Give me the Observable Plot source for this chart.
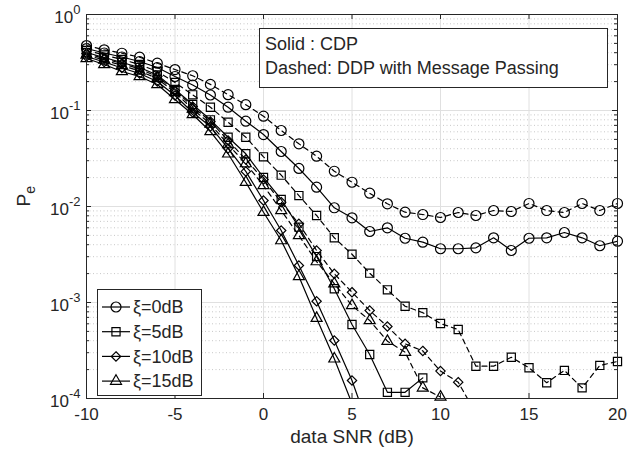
<!DOCTYPE html>
<html><head><meta charset="utf-8">
<script src="https://cdn.jsdelivr.net/npm/d3@7"></script>
<script src="https://cdn.jsdelivr.net/npm/@observablehq/plot@0.6"></script>
<style>body{margin:0;background:#fff}</style>
</head><body><div id="chart"></div>
<script>
// ---- data ----
const snr = [-10,-9,-8,-7,-6,-5,-4,-3,-2,-1,0,1,2,3,4,5,6,7,8,9,10,11,12,13,14,15,16,17,18,19,20];
const xiLabels = ["0dB","5dB","10dB","15dB"];
const xiSymbols = ["circle","square","diamond2","triangle"];
const xiRadius = [5,4.6,4.2,4.1];
// CDP (solid)
const cdp0 = [0.442,0.397,0.361,0.324,0.2805,0.226,0.1843,0.145,0.1082,0.0774,0.0562,0.0374,0.0249,0.0159,0.0097,0.00762,0.00549,0.0060,0.00467,0.00425,0.00363,0.00363,0.00371,0.00472,0.00348,0.00467,0.00472,0.00536,0.00472,0.0039,0.00435];
const cdp5 = [0.402,0.3565,0.3162,0.2805,0.2344,0.1655,0.1155,0.080,0.0527,0.0354,0.02005,0.01183,0.00609,0.00301,0.00139,0.00059,0.000287,0.000116,0.000116,0.000164];
const cdp10 = [0.3652,0.320,0.2772,0.2428,0.2005,0.1433,0.0953,0.0681,0.0402,0.0232,0.01155,0.00562,0.00243,0.00103,0.000402,0.000154,0.0000464];
const cdp15 = [0.348,0.3013,0.2548,0.226,0.1866,0.1302,0.0908,0.0604,0.0354,0.0179,0.00872,0.00442,0.00187,0.000686,0.000259,0.0000887];
// DDP with message passing (dashed)
const ddp0 = [0.475,0.429,0.395,0.359,0.311,0.267,0.230,0.187,0.146,0.115,0.0872,0.0619,0.045,0.0334,0.0233,0.0179,0.01375,0.01067,0.00872,0.00825,0.00768,0.00866,0.00806,0.00908,0.00887,0.01075,0.00908,0.00866,0.01075,0.00908,0.01075];
const ddp5 = [0.422,0.3785,0.340,0.3013,0.2548,0.1957,0.1457,0.1082,0.0755,0.0527,0.0329,0.0212,0.0130,0.00806,0.00472,0.00318,0.00202,0.001356,0.000915,0.000783,0.000604,0.000523,0.000217,0.000217,0.000269,0.000209,0.000146,0.000196,0.000129,0.000221,0.000243];
const ddp10 = [0.3924,0.348,0.3087,0.2705,0.226,0.1616,0.110,0.0768,0.0487,0.0309,0.0191,0.01109,0.0066,0.00348,0.00199,0.00128,0.000825,0.000562,0.000371,0.000313,0.000193,0.000148,0.0000698];
const ddp15 = [0.3785,0.3357,0.2942,0.2578,0.2154,0.154,0.1036,0.0723,0.0442,0.028,0.01655,0.00908,0.00499,0.00267,0.00157,0.00093,0.00065,0.000395,0.000304,0.000129,0.0001036];
// ticks
const xTicks = [-10,-5,0,5,10,15,20];
const yTicks = [1e-4,1e-3,1e-2,1e-1,1];
const yExp = ["-4","-3","-2","-1","0"];
const minorMult = [2,3,4,5,6,7,8,9];
const xLabel = "data SNR (dB)";
const yLabel = "P_e";
const noteLines = ["Solid : CDP","Dashed: DDP with Message Passing"];

// ---- table ----
const toRows = (vals, xi, scheme) => vals.map((v,i) => ({snr: snr[i], pe: v, xi, scheme}));
const solid = [cdp0,cdp5,cdp10,cdp15].flatMap((v,k) => toRows(v, xiLabels[k], "CDP"));
const dashed = [ddp0,ddp5,ddp10,ddp15].flatMap((v,k) => toRows(v, xiLabels[k], "DDP"));
const all = solid.concat(dashed);
const yMinor = yTicks.slice(0,-1).flatMap(d => minorMult.map(m => m*d));
const yMajorGrid = yTicks.slice(1,-1);
const xGrid = xTicks.slice(1,-1);

const PW = 631-86-14, PH = 454-14-56;
const ink = "#262626";

const dotMarks = xiLabels.map((xi,k) => Plot.dot(all.filter(r => r.xi === xi && r.pe >= 1e-4), {
  x: "snr", y: "pe", symbol: xiSymbols[k], r: xiRadius[k], stroke: "#000", strokeWidth: 1.2, fill: "none"
}));

const chart = Plot.plot({
  width: 631, height: 454,
  marginLeft: 86, marginRight: 14, marginTop: 14, marginBottom: 56,
  x: {domain: [-10, 20], axis: null},
  y: {type: "log", domain: [1e-4, 1], axis: null},
  style: {fontFamily: "'Liberation Sans', Arial, sans-serif", fontSize: "17px", color: ink, background: "#fff", overflow: "visible"},
  marks: [
    Plot.ruleY(yMinor, {stroke: "#c8c8c8", strokeDasharray: "1,2.5"}),
    Plot.ruleX(xGrid, {stroke: "#e0e0e0"}),
    Plot.ruleY(yMajorGrid, {stroke: "#e0e0e0"}),
    Plot.line(solid, {x: "snr", y: "pe", z: "xi", stroke: "#000", strokeWidth: 1.2, clip: true}),
    Plot.line(dashed, {x: "snr", y: "pe", z: "xi", stroke: "#000", strokeWidth: 1.2, strokeDasharray: "5,4", clip: true}),
    ...dotMarks,
    Plot.frame({stroke: ink}),
    Plot.ruleX(xTicks, {stroke: ink, insetTop: PH - 5}),
    Plot.ruleX(xTicks, {stroke: ink, insetBottom: PH - 5}),
    Plot.ruleY(yTicks, {stroke: ink, insetRight: PW - 5}),
    Plot.ruleY(yTicks, {stroke: ink, insetLeft: PW - 5}),
    Plot.ruleY(yMinor, {stroke: ink, insetRight: PW - 3}),
    Plot.ruleY(yMinor, {stroke: ink, insetLeft: PW - 3}),
    Plot.text(xTicks, {x: d => d, frameAnchor: "bottom", dy: 21, text: d => String(d), fontSize: 17, fill: ink}),
    Plot.text(yTicks, {y: d => d, frameAnchor: "left", dx: -6, dy: 3, textAnchor: "end", text: (d,i) => "10^" + yExp[i], fontSize: 17, fill: ink}),
    Plot.text([xLabel], {frameAnchor: "bottom", dy: 44, text: d => d, fontSize: 19, fill: ink}),
    Plot.text([yLabel], {frameAnchor: "left", dx: -63, rotate: -90, text: d => d, fontSize: 19, fill: ink})
  ]
});

// superscripts / subscripts as real text
const NS = "http://www.w3.org/2000/svg";
chart.querySelectorAll("text").forEach(t => {
  const s = t.textContent;
  let m = s.match(/^10\^(.+)$/);
  if (m) {
    t.textContent = "";
    const a = document.createElementNS(NS, "tspan"); a.textContent = "10";
    const b = document.createElementNS(NS, "tspan"); b.textContent = m[1];
    b.setAttribute("dy", "-0.7em"); b.setAttribute("font-size", "13");
    t.append(a, b);
  } else if ((m = s.match(/^(.+)_(.+)$/))) {
    t.textContent = "";
    const a = document.createElementNS(NS, "tspan"); a.textContent = m[1];
    const b = document.createElementNS(NS, "tspan"); b.textContent = m[2];
    b.setAttribute("dy", "0.4em"); b.setAttribute("font-size", "14");
    t.append(a, b);
  }
});

// annotation box & legend
const svg = d3.select(chart);
const font = "'Liberation Sans', Arial, sans-serif";
const note = svg.append("g").attr("font-family", font).attr("font-size", 18).attr("fill", ink).attr("text-anchor", "start");
note.append("rect").attr("x", 259.5).attr("y", 28.5).attr("width", 348).attr("height", 59)
  .attr("fill", "#fff").attr("stroke", ink);
noteLines.forEach((s, i) => note.append("text").attr("x", 265).attr("y", 49.5 + i*24).text(s));

const symTypes = {circle: d3.symbolCircle, square: d3.symbolSquare, diamond2: d3.symbolDiamond2, triangle: d3.symbolTriangle};
const leg = svg.append("g").attr("font-family", font).attr("font-size", 18).attr("fill", ink).attr("text-anchor", "start");
leg.append("rect").attr("x", 97.5).attr("y", 289.5).attr("width", 104).attr("height", 106)
  .attr("fill", "#fff").attr("stroke", ink);
xiLabels.forEach((xi, k) => {
  const y = 307 + k*24.7;
  leg.append("line").attr("x1", 102).attr("x2", 130).attr("y1", y).attr("y2", y).attr("stroke", "#000").attr("stroke-width", 1.2);
  leg.append("path").attr("transform", `translate(116,${y})`)
    .attr("d", d3.symbol(symTypes[xiSymbols[k]], Math.PI * xiRadius[k] ** 2)())
    .attr("fill", "none").attr("stroke", "#000").attr("stroke-width", 1.2);
  leg.append("text").attr("x", 133).attr("y", y).attr("dy", "0.35em").text("ξ=" + xi);
});

document.getElementById("chart").append(chart);
</script>
</body></html>
